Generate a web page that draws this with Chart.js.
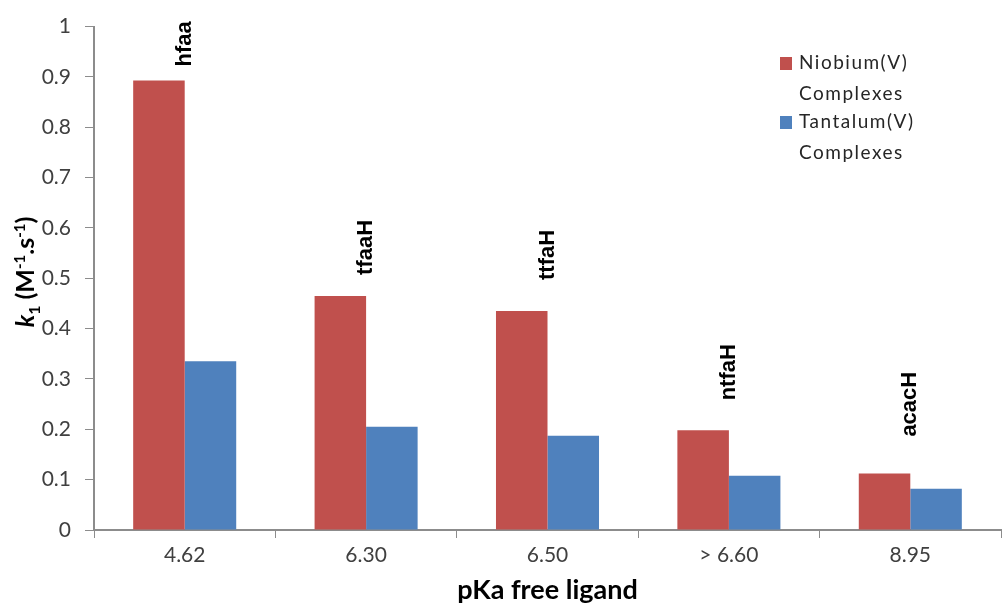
<!DOCTYPE html>
<html>
<head>
<meta charset="utf-8">
<title>k1 vs pKa</title>
<script src="https://cdn.jsdelivr.net/npm/chart.js@4"></script>
<style>
  html, body { margin: 0; padding: 0; background: #fff; }
  #wrap { width: 1002px; height: 608px; position: relative; }
</style>
</head>
<body>
<div id="wrap"><canvas id="chartK1" width="1002" height="608"></canvas></div>
<script>
// pKa of the free ligand on the x axis
const categories = ['4.62', '6.30', '6.50', '> 6.60', '8.95'];
// ligand names written above each group
const ligands = ['hfaa', 'tfaaH', 'ttfaH', 'ntfaH', 'acacH'];
// k1 values (M-1.s-1)
const niobium = [0.893, 0.465, 0.435, 0.198, 0.112];
const tantalum = [0.335, 0.205, 0.187, 0.108, 0.082];
const seriesNames = [['Niobium(V)', 'Complexes'], ['Tantalum(V)', 'Complexes']];

const RED = '#C0504D';
const BLUE = '#4F81BD';
const AXIS = '#8c8c8c';
const TXT = '#404040';

// ligand name above each group, rotated
const ligandLabels = {
  id: 'ligandLabels',
  afterDatasetsDraw(chart, args, opts) {
    const ctx = chart.ctx;
    const meta = chart.getDatasetMeta(0);
    const x = chart.scales.x;
    ctx.save();
    ctx.font = 'bold 22px "Liberation Sans", Arial, sans-serif';
    ctx.fillStyle = '#000';
    ctx.textAlign = 'left';
    ctx.textBaseline = 'middle';
    meta.data.forEach(function(bar, i) {
      const cx = x.getPixelForValue(i);
      ctx.save();
      ctx.translate(cx, bar.y - opts.gaps[i]);
      ctx.rotate(-Math.PI / 2);
      ctx.fillText(ligands[i], 0, 0);
      ctx.restore();
    });
    ctx.restore();
  }
};

// legend drawn inside the plot, two lines per entry
const boxLegend = {
  id: 'boxLegend',
  afterDraw(chart) {
    const ctx = chart.ctx;
    const colors = [RED, BLUE];
    let y = 63;
    ctx.save();
    ctx.font = '19px Lato, sans-serif';
    ctx.letterSpacing = '1.5px';
    ctx.textBaseline = 'middle';
    ctx.textAlign = 'left';
    seriesNames.forEach(function(lines, i) {
      ctx.fillStyle = colors[i];
      ctx.fillRect(780, y - 6, 12, 13);
      ctx.fillStyle = '#262626';
      lines.forEach(function(line, j) {
        ctx.fillText(line, 799, y + j * 31);
      });
      y += 59;
    });
    ctx.restore();
  }
};

// y axis title with italic k, subscript and superscripts
const yTitle = {
  id: 'yTitle',
  afterDraw(chart) {
    const ctx = chart.ctx;
    const parts = [
      { t: 'k', f: 'italic bold 25px Lato, sans-serif', dy: 0 },
      { t: '1', f: 'bold 16px Lato, sans-serif', dy: 6 },
      { t: ' (M', f: 'bold 25px Lato, sans-serif', dy: 0 },
      { t: '-1', f: 'bold 15px Lato, sans-serif', dy: -9 },
      { t: '.s', f: 'bold 25px Lato, sans-serif', dy: 0 },
      { t: '-1', f: 'bold 15px Lato, sans-serif', dy: -9 },
      { t: ')', f: 'bold 25px Lato, sans-serif', dy: 0 }
    ];
    ctx.save();
    let total = 0;
    parts.forEach(function(p) { ctx.font = p.f; p.w = ctx.measureText(p.t).width; total += p.w; });
    ctx.translate(34, 272);
    ctx.rotate(-Math.PI / 2);
    ctx.fillStyle = '#000';
    ctx.textBaseline = 'alphabetic';
    ctx.textAlign = 'left';
    let px = -total / 2;
    parts.forEach(function(p) {
      ctx.font = p.f;
      ctx.fillText(p.t, px, p.dy);
      px += p.w;
    });
    ctx.restore();
  }
};

const ctx = document.getElementById('chartK1').getContext('2d');
new Chart(ctx, {
  type: 'bar',
  data: {
    labels: categories,
    datasets: [
      { label: 'Niobium(V) Complexes', data: niobium, backgroundColor: RED, borderWidth: 0 },
      { label: 'Tantalum(V) Complexes', data: tantalum, backgroundColor: BLUE, borderWidth: 0 }
    ]
  },
  options: {
    responsive: false,
    animation: false,
    layout: { padding: { top: 22, right: 1, left: 0, bottom: 0 } },
    datasets: { bar: { categoryPercentage: 0.568, barPercentage: 1.0 } },
    scales: {
      x: {
        grid: { display: true, drawOnChartArea: false, drawTicks: true, tickLength: 8, color: AXIS, offset: true },
        border: { color: AXIS, width: 2 },
        ticks: { color: TXT, font: { family: 'Lato', size: 21 }, padding: 5, maxRotation: 0 },
        title: { display: true, text: 'pKa free ligand', color: '#000', font: { family: 'Lato', size: 27, weight: 'bold' }, padding: { top: 0, bottom: 2 } },
        afterFit(scale) { scale.height = 78; }
      },
      y: {
        min: 0,
        max: 1,
        grid: { display: true, drawOnChartArea: false, drawTicks: true, tickLength: 9, color: AXIS },
        border: { color: AXIS, width: 2 },
        ticks: {
          stepSize: 0.1, color: TXT, font: { family: 'Lato', size: 21 }, padding: 14,
          callback: function(v) { return String(+v.toFixed(1)); }
        },
        afterFit(scale) { scale.width = 94; }
      }
    },
    plugins: {
      legend: { display: false },
      tooltip: { enabled: false },
      ligandLabels: { gaps: [14, 21, 31, 30, 37] }
    }
  },
  plugins: [ligandLabels, boxLegend, yTitle]
});
</script>
</body>
</html>
